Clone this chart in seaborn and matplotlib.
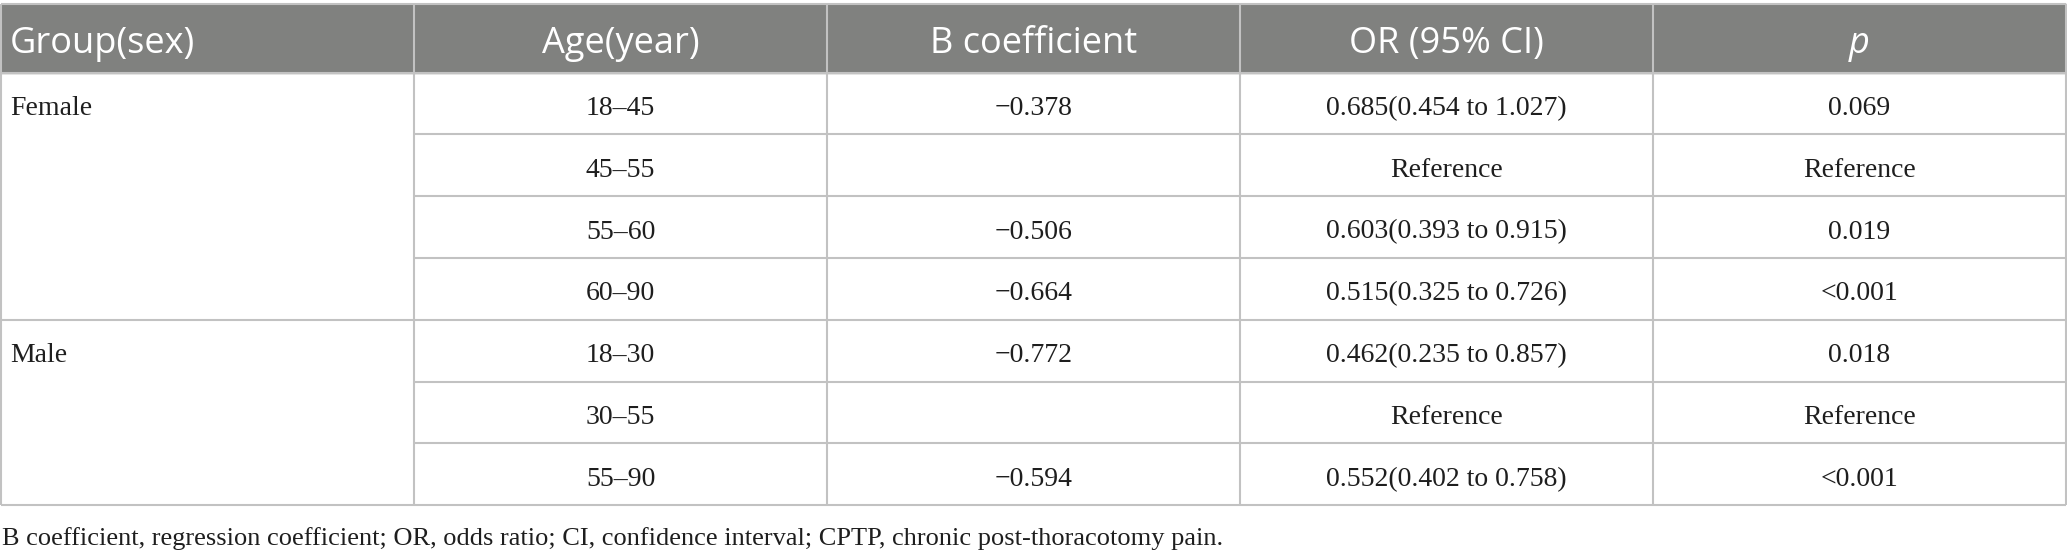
import matplotlib
matplotlib.use("Agg")
from matplotlib import pyplot as plt
import seaborn as sns

# table content
headers = ["Group(sex)", "Age(year)", "B coefficient", "OR (95% CI)", "p"]
groups = ["Female", "Male"]
group_sizes = [4, 3]
ages = ["18–45", "45–55", "55–60", "60–90", "18–30", "30–55", "55–90"]
b_coef = ["−0.378", "", "−0.506", "−0.664", "−0.772", "", "−0.594"]
or_ci = ["0.685(0.454 to 1.027)", "Reference", "0.603(0.393 to 0.915)",
         "0.515(0.325 to 0.726)", "0.462(0.235 to 0.857)", "Reference",
         "0.552(0.402 to 0.758)"]
p_vals = ["0.069", "Reference", "0.019", "<0.001", "0.018", "Reference", "<0.001"]
footnote = ("B coefficient, regression coefficient; OR, odds ratio; CI, confidence "
            "interval; CPTP, chronic post-thoracotomy pain.")

sns.set_theme(style="white")

W, H = 2067, 558
fig = plt.figure(figsize=(W / 100, H / 100), dpi=100)
ax = fig.add_axes([0, 0, 1, 1])
ax.set_xlim(0, W)
ax.set_ylim(H, 0)
ax.axis("off")

line_c = "#c2c2c2"
lw = 1.5
head_top, head_bot = 4, 72.5
row_h = 61.8
left, right = 1, 2066
col_w = (right - left) / 5
col_x = [left + i * col_w for i in range(6)]
n_rows = len(ages)
row_y = [head_bot + i * row_h for i in range(n_rows + 1)]

# header band
ax.fill_between([left, right], head_top, head_bot, color="#80817f", zorder=1)
for i, h in enumerate(headers):
    kw = dict(style="italic") if h == "p" else {}
    if i == 0:
        x, ha = left + 9, "left"
    else:
        x, ha = (col_x[i] + col_x[i + 1]) / 2, "center"
    ax.text(x, 53, h, color="white", ha=ha, va="baseline",
            fontsize=26, family="Open Sans", zorder=3, **kw)

# outer lines
ax.hlines([head_top, row_y[-1]], left, right, color=line_c, lw=lw, zorder=2)
ax.vlines([left, right], head_top, row_y[-1], color=line_c, lw=lw, zorder=2)
ax.vlines(col_x[1:5], head_top, row_y[-1], color=line_c, lw=lw, zorder=2)

# row lines, group column is merged
start = 0
group_edges = []
for g, n in zip(groups, group_sizes):
    group_edges.append(start)
    start += n
for r in range(1, n_rows):
    x0 = left if r in group_edges else col_x[1]
    ax.hlines(row_y[r], x0, right, color=line_c, lw=lw, zorder=2)
ax.hlines(head_bot, left, right, color=line_c, lw=lw, zorder=2)

body = dict(fontsize=20, family="Liberation Serif", color="#1e1e1e", va="baseline")
for g, r in zip(groups, group_edges):
    ax.text(left + 9, row_y[r] + 42.5, g, ha="left", **body)

for r in range(n_rows):
    base = row_y[r] + 42.5
    for c, vals in enumerate([ages, b_coef, or_ci, p_vals], start=1):
        cx = (col_x[c] + col_x[c + 1]) / 2
        ax.text(cx, base, vals[r], ha="center", **body)

ax.text(2, 545, footnote, ha="left", fontsize=19, family="Liberation Serif",
        color="#1e1e1e", va="baseline")

fig.savefig("out.png", dpi=100)
